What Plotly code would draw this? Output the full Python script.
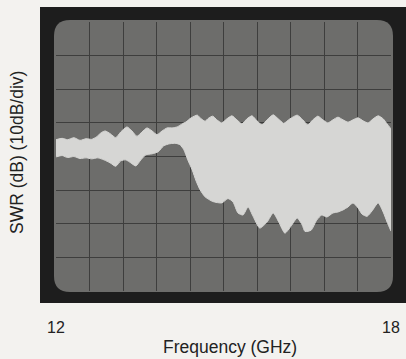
import plotly.graph_objects as go

# Trace: upper and lower edge of the swept SWR band
freq_upper = [12.00, 12.11, 12.21, 12.32, 12.43, 12.54, 12.64, 12.73, 12.81, 12.88,
              12.97, 13.07, 13.16, 13.27, 13.36, 13.45, 13.54, 13.63, 13.72, 13.81,
              13.90, 13.99, 14.08, 14.17, 14.26, 14.33, 14.42, 14.53, 14.60, 14.67,
              14.74, 14.81, 14.88, 14.97, 15.06, 15.15, 15.24, 15.33, 15.42, 15.51,
              15.60, 15.69, 15.78, 15.89, 15.98, 16.08, 16.19, 16.32, 16.42, 16.51,
              16.60, 16.69, 16.78, 16.87, 16.96, 17.05, 17.14, 17.23, 17.32, 17.41,
              17.50, 17.59, 17.68, 17.77, 17.86, 17.93, 18.00]
swr_upper = [45.0, 45.4, 45.0, 45.6, 44.8, 45.3, 45.1, 45.9, 47.1, 47.6,
             46.8, 45.6, 47.3, 48.8, 47.6, 46.0, 47.3, 48.5, 47.6, 46.5,
             47.6, 48.5, 48.5, 48.8, 49.7, 50.3, 51.5, 52.3, 51.2, 50.5,
             51.5, 52.0, 50.9, 50.0, 51.2, 52.1, 50.9, 49.7, 51.2, 52.1,
             50.6, 49.4, 50.9, 52.4, 51.2, 49.9, 51.2, 52.3, 50.9, 49.4,
             50.9, 52.0, 50.9, 50.0, 50.9, 51.7, 50.9, 50.2, 50.9, 51.5,
             50.6, 50.0, 51.2, 52.1, 51.2, 49.7, 48.2]

freq_lower = [12.00, 12.11, 12.21, 12.32, 12.43, 12.54, 12.64, 12.75, 12.86, 12.97,
              13.07, 13.16, 13.25, 13.34, 13.43, 13.52, 13.61, 13.72, 13.83, 13.93,
              14.04, 14.15, 14.22, 14.29, 14.36, 14.44, 14.51, 14.58, 14.67, 14.81,
              14.97, 15.08, 15.17, 15.26, 15.35, 15.44, 15.53, 15.65, 15.78, 15.89,
              15.99, 16.10, 16.21, 16.32, 16.41, 16.46, 16.57, 16.67, 16.76, 16.85,
              16.96, 17.05, 17.14, 17.23, 17.32, 17.41, 17.48, 17.57, 17.66, 17.77,
              17.86, 17.93, 18.00]
swr_lower = [39.9, 40.2, 39.7, 40.0, 39.4, 39.6, 39.3, 39.6, 39.0, 38.1,
             37.1, 38.7, 39.0, 38.1, 37.2, 39.0, 40.5, 40.8, 41.4, 43.2,
             43.8, 43.9, 43.5, 42.0, 39.0, 36.0, 32.7, 30.1, 28.0, 26.6,
             26.2, 27.5, 26.5, 23.2, 22.6, 25.0, 22.2, 18.7, 20.5, 23.2,
             20.5, 17.2, 19.3, 21.7, 19.6, 17.7, 18.1, 21.1, 22.6, 22.0,
             23.2, 23.5, 24.1, 25.0, 26.2, 24.7, 22.9, 22.2, 23.8, 26.2,
             23.5, 20.5, 17.8]

# graticule: 10 x 8 divisions
x_ticks = [12 + 0.6 * i for i in range(11)]
x_labels = ['12'] + [''] * 9 + ['18']

W, H = 406, 359
L, R, T, B = 56, 15, 22, 68
pw, ph = W - L - R, H - T - B


def px(x, y):
    # pixel position -> paper coords
    return (x - L) / pw, (H - B - y) / ph


def rounded_rect(x0, y0, x1, y1, r):
    pts = []
    a = px(x0 + r, y0); pts.append(f"M{a[0]},{a[1]}")
    a = px(x1 - r, y0); pts.append(f"L{a[0]},{a[1]}")
    c = px(x1, y0); a = px(x1, y0 + r); pts.append(f"Q{c[0]},{c[1]} {a[0]},{a[1]}")
    a = px(x1, y1 - r); pts.append(f"L{a[0]},{a[1]}")
    c = px(x1, y1); a = px(x1 - r, y1); pts.append(f"Q{c[0]},{c[1]} {a[0]},{a[1]}")
    a = px(x0 + r, y1); pts.append(f"L{a[0]},{a[1]}")
    c = px(x0, y1); a = px(x0, y1 - r); pts.append(f"Q{c[0]},{c[1]} {a[0]},{a[1]}")
    a = px(x0, y0 + r); pts.append(f"L{a[0]},{a[1]}")
    c = px(x0, y0); a = px(x0 + r, y0); pts.append(f"Q{c[0]},{c[1]} {a[0]},{a[1]}")
    return " ".join(pts) + " Z"


band = '#d6d6d4'
fig = go.Figure()
fig.add_trace(go.Scatter(x=freq_lower, y=swr_lower, mode='lines',
                         line=dict(color=band, width=1, shape='spline', smoothing=0.6),
                         hoverinfo='skip', showlegend=False))
fig.add_trace(go.Scatter(x=freq_upper, y=swr_upper, mode='lines', fill='tonexty',
                         fillcolor=band,
                         line=dict(color=band, width=1, shape='spline', smoothing=0.6),
                         hoverinfo='skip', showlegend=False))

b0 = px(40, 7)
b1 = px(W + 2, 303)
shapes = [
    # bezel
    dict(type='rect', xref='paper', yref='paper', x0=b0[0], y0=b1[1], x1=b1[0], y1=b0[1],
         fillcolor='#1d1d1d', line=dict(width=0), layer='below'),
    # screen
    dict(type='path', xref='paper', yref='paper', path=rounded_rect(54, 20, 393, 292, 16),
         fillcolor='#6d6d6b', line=dict(width=0), layer='below'),
]

# axis titles placed as annotations so their position is exact
xt = px(230, 347)
yt = px(17, 153)
annotations = [
    dict(text='Frequency (GHz)', xref='paper', yref='paper', x=xt[0], y=xt[1],
         xanchor='center', yanchor='middle', showarrow=False, font=dict(size=17.5)),
    dict(text='SWR (dB) (10dB/div)', xref='paper', yref='paper', x=yt[0], y=yt[1],
         xanchor='center', yanchor='middle', showarrow=False, textangle=-90,
         font=dict(size=17.5)),
]

fig.update_layout(
    width=W, height=H,
    margin=dict(l=L, r=R, t=T, b=B),
    paper_bgcolor='#f3f2ef',
    plot_bgcolor='rgba(0,0,0,0)',
    shapes=shapes,
    annotations=annotations,
    font=dict(family='Liberation Sans, Arial, sans-serif', color='#222222'),
    xaxis=dict(range=[12, 18], tickvals=x_ticks, ticktext=x_labels, automargin=False,
               showgrid=True, gridcolor='#3e3e3d', gridwidth=1, zeroline=False,
               showline=False, ticks='', ticklabelstandoff=25,
               tickfont=dict(size=16, color='#222222')),
    yaxis=dict(range=[0, 80], dtick=10, showticklabels=False, automargin=False,
               showgrid=True, gridcolor='#3e3e3d', gridwidth=1, zeroline=False,
               showline=False, ticks=''),
)

fig.write_html("out.html", config={'displayModeBar': False},
               post_script="document.body.style.margin='0';")
